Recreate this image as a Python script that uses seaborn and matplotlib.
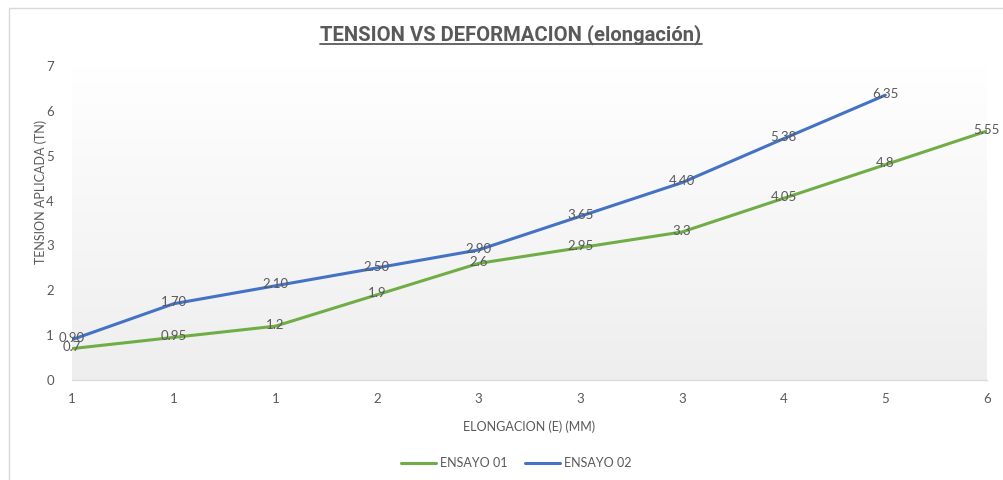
import numpy as np
import pandas as pd
import matplotlib
matplotlib.use('Agg')
import matplotlib.pyplot as plt
from matplotlib.patches import Rectangle
from matplotlib.lines import Line2D
import seaborn as sns

# Chart data
x_labels = ['1', '1', '1', '2', '3', '3', '3', '4', '5', '6']
ensayo_01 = [0.7, 0.95, 1.2, 1.9, 2.6, 2.95, 3.3, 4.05, 4.8, 5.55]
ensayo_02 = [0.90, 1.70, 2.10, 2.50, 2.90, 3.65, 4.40, 5.38, 6.35]
ensayo_01_labels = ['0.7', '0.95', '1.2', '1.9', '2.6', '2.95', '3.3', '4.05', '4.8', '5.55']
ensayo_02_labels = ['0.90', '1.70', '2.10', '2.50', '2.90', '3.65', '4.40', '5.38', '6.35']

GREEN = '#70AD47'
BLUE = '#4472C4'
TEXT_GRAY = '#595959'

sns.set_style('white')
plt.rcParams['font.family'] = ['Lato', 'DejaVu Sans']


def build_frame():
    """Long table of both series"""
    df1 = pd.DataFrame({'pos': range(len(ensayo_01)), 'valor': ensayo_01,
                        'serie': 'ENSAYO 01', 'etiqueta': ensayo_01_labels})
    df2 = pd.DataFrame({'pos': range(len(ensayo_02)), 'valor': ensayo_02,
                        'serie': 'ENSAYO 02', 'etiqueta': ensayo_02_labels})
    return pd.concat([df1, df2], ignore_index=True)


def main():
    df = build_frame()

    fig = plt.figure(figsize=(10.04, 4.8), dpi=100)
    ax = fig.add_axes([0.0717, 0.2083, 0.9113, 0.6542])

    # outer chart frame
    fig.patches.append(Rectangle((0.0085, -0.05), 1.1, 1.0333, transform=fig.transFigure,
                                 fill=False, edgecolor='#d9d9d9', lw=1.0))

    # gradient fill of the plot area
    grad = np.linspace(1.0, 0.0, 256).reshape(-1, 1)
    cmap = matplotlib.colors.LinearSegmentedColormap.from_list('g', ['#eeeeee', '#ffffff'])
    ax.imshow(grad, cmap=cmap, aspect='auto', extent=[0, 1, 0, 1],
              transform=ax.transAxes, zorder=0, vmin=0, vmax=1)

    sns.lineplot(data=df, x='pos', y='valor', hue='serie',
                 palette={'ENSAYO 01': GREEN, 'ENSAYO 02': BLUE},
                 linewidth=2.2, ax=ax, legend=False, zorder=3)

    for _, row in df.iterrows():
        ax.text(row['pos'], row['valor'] + 0.03, row['etiqueta'], ha='center', va='center',
                fontsize=9.5, color=TEXT_GRAY, zorder=4)

    ax.set_xlim(0, len(x_labels) - 1)
    ax.set_ylim(0, 7)
    ax.set_xticks(range(len(x_labels)))
    ax.set_xticklabels(x_labels)
    ax.set_yticks(range(0, 8))
    ax.tick_params(axis='both', length=0, labelsize=9.5, colors=TEXT_GRAY)
    ax.tick_params(axis='x', pad=9)
    ax.tick_params(axis='y', pad=13)

    for side in ['top', 'right', 'left']:
        ax.spines[side].set_visible(False)
    ax.spines['bottom'].set_color('#dcdcdc')
    ax.spines['bottom'].set_linewidth(1.0)

    ax.set_xlabel('ELONGACION (E) (MM)', fontsize=9, color=TEXT_GRAY)
    ax.xaxis.set_label_coords(0.5, -0.13)
    ax.set_ylabel('TENSION APLICADA (TN)', fontsize=9, color=TEXT_GRAY)
    ax.yaxis.set_label_coords(-0.027, 0.6)

    # title with underline
    title = fig.text(0.509, 0.927, 'TENSION VS DEFORMACION (elongación)', ha='center', va='center',
                     fontsize=14.6, fontweight='bold', color=TEXT_GRAY,
                     family=['Roboto', 'DejaVu Sans'])
    fig.canvas.draw()
    bb = title.get_window_extent(renderer=fig.canvas.get_renderer())
    bb = bb.transformed(fig.transFigure.inverted())
    fig.lines.append(Line2D([bb.x0, bb.x1], [bb.y0 + 0.002, bb.y0 + 0.002],
                            transform=fig.transFigure, color=TEXT_GRAY, lw=1.3))

    handles = [Line2D([], [], color=GREEN, lw=2.2), Line2D([], [], color=BLUE, lw=2.2)]
    fig.legend(handles, ['ENSAYO 01', 'ENSAYO 02'], loc='center', bbox_to_anchor=(0.514, 0.035),
               ncol=2, frameon=False, fontsize=9, handlelength=2.8, columnspacing=1.4,
               handletextpad=0.3, labelcolor=TEXT_GRAY)

    fig.savefig('out.png', dpi=100)
    plt.close(fig)


if __name__ == '__main__':
    main()
